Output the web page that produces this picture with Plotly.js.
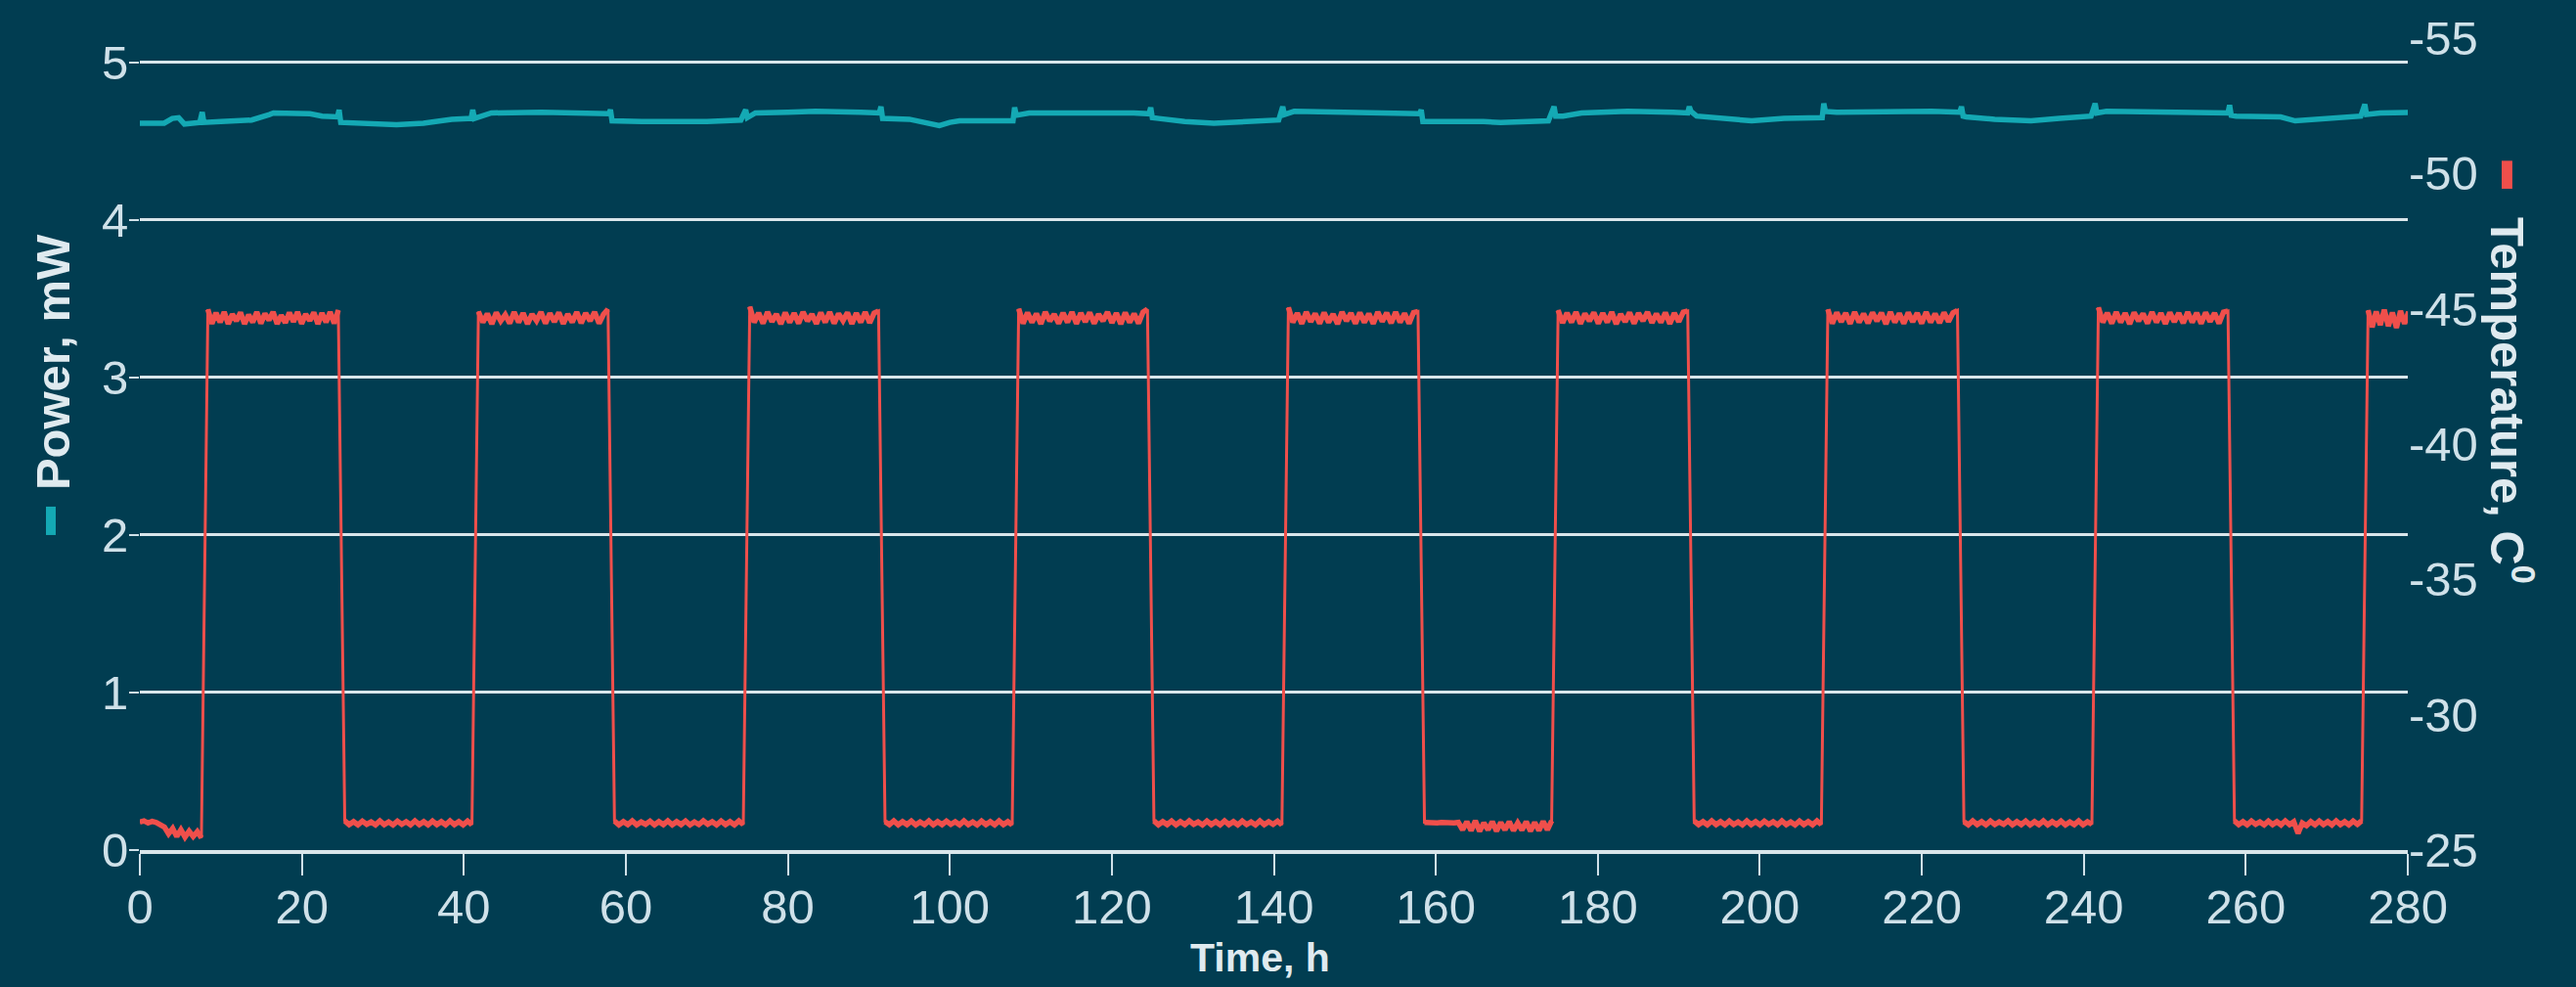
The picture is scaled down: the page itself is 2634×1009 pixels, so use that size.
<!DOCTYPE html>
<html>
<head>
<meta charset="utf-8">
<script src="https://cdn.plot.ly/plotly-3.0.1.min.js"></script>
<style>
html,body{margin:0;padding:0;background:#013d51;overflow:hidden;}
#chart{width:2634px;height:1009px;}
</style>
</head>
<body>
<div id="chart"></div>
<script>
// ---------- data ----------
const xTickVals = [0,20,40,60,80,100,120,140,160,180,200,220,240,260,280];
const yTickVals = [0,1,2,3,4,5];
const y2TickVals = [-25,-30,-35,-40,-45,-50,-55];
const y2TickText = ["-25","-30","-35","-40","-45","-50","-55"];

// Power, mW (left axis)
const powerTime = [0,3.0,4.0,4.8,5.5,7.4,7.7,7.9,10,13.2,13.8,16.0,16.5,21,22.5,24.4,24.6,24.8,28,31.7,35,38.5,40.9,41.1,41.3,43.4,49.6,55.7,57.9,58.1,58.3,62,66.2,70,74.2,74.8,75.0,76,80,83.4,89,91.3,91.5,91.7,95,97,98.7,100,101.2,107.8,108.0,108.2,109.8,122.7,124.6,124.8,125.0,125.8,129,132.6,136,140.6,141.1,141.3,142.5,150,156.6,158.0,158.2,158.4,165.9,168,173.9,174.6,174.8,175.7,178,183.7,189.3,191.1,191.3,191.5,192.2,195,199,203,207,207.7,207.9,208.1,209.5,215,221.2,224.7,224.9,225.1,225.5,229,233.5,237,240.9,241.4,241.6,242.8,250,256.3,257.8,258.0,258.2,258.8,262,264.3,266.1,269.3,274.2,274.7,274.9,276.6,281.2];
const powerMW  = [4.615,4.615,4.645,4.65,4.61,4.62,4.685,4.62,4.625,4.64,4.635,4.67,4.68,4.675,4.66,4.655,4.70,4.62,4.615,4.605,4.615,4.64,4.645,4.70,4.645,4.68,4.685,4.68,4.675,4.70,4.63,4.625,4.625,4.625,4.635,4.70,4.65,4.68,4.685,4.69,4.685,4.68,4.72,4.645,4.64,4.615,4.60,4.62,4.63,4.63,4.715,4.665,4.68,4.68,4.675,4.715,4.65,4.645,4.625,4.615,4.625,4.635,4.72,4.67,4.69,4.685,4.675,4.675,4.70,4.625,4.625,4.62,4.63,4.72,4.66,4.66,4.68,4.69,4.685,4.68,4.72,4.69,4.66,4.645,4.63,4.645,4.655,4.65,4.74,4.69,4.685,4.69,4.69,4.685,4.72,4.66,4.655,4.64,4.63,4.645,4.66,4.74,4.68,4.69,4.685,4.68,4.68,4.73,4.665,4.66,4.66,4.655,4.63,4.645,4.66,4.735,4.67,4.68,4.685];

// Temperature, C (right axis): plateau edges, h
const lowStart  = [0,25.3,58.6,92.0,125.2,158.6,191.9,225.2,258.6];
const lowEnd    = [7.6,41.0,74.5,107.7,141.0,174.3,207.6,241.0,274.3];
const highStart = [8.4,41.8,75.3,108.5,141.8,175.1,208.4,241.8,275.1];
const highEnd   = [24.5,57.8,91.2,124.4,157.8,191.1,224.4,257.8,280.6];

// readings along each warm (about -26) and cold (about -45) plateau
const lowReadings = [
 [-26.04,-26.08,-26.0,-26.06,-26.02,-25.95,-25.85,-25.6,-25.8,-25.5,-25.75,-25.48,-25.7,-25.5,-25.68,-25.45],
 [-26.08,-25.94,-26.05,-25.93,-26.07,-25.95,-26.04,-25.93,-26.08,-25.94,-26.04,-25.93,-26.07,-25.95,-26.05,-25.93,-26.08,-25.94,-26.05,-25.93,-26.07,-25.94,-26.05,-25.93,-26.08,-25.94,-26.05,-25.93,-26.07,-25.94],
 [-26.07,-25.93,-26.05,-25.94,-26.08,-25.93,-26.04,-25.95,-26.07,-25.93,-26.05,-25.94,-26.08,-25.93,-26.05,-25.94,-26.07,-25.93,-26.04,-25.94,-26.08,-25.95,-26.05,-25.93,-26.07,-25.94,-26.05,-25.93,-26.08,-25.94],
 [-26.05,-25.94,-26.08,-25.93,-26.05,-25.94,-26.07,-25.93,-26.04,-25.94,-26.08,-25.93,-26.05,-25.94,-26.07,-25.95,-26.05,-25.93,-26.08,-25.94,-26.04,-25.93,-26.07,-25.94,-26.05,-25.93,-26.08,-25.94,-26.05,-25.93],
 [-26.08,-25.93,-26.05,-25.94,-26.07,-25.93,-26.05,-25.94,-26.08,-25.95,-26.04,-25.93,-26.07,-25.94,-26.05,-25.93,-26.08,-25.94,-26.05,-25.93,-26.07,-25.94,-26.04,-25.93,-26.08,-25.94,-26.05,-25.95,-26.07,-25.93],
 [-26.02,-26.0,-26.03,-26.0,-26.02,-26.0,-26.02,-26.0,-26.02,-25.75,-26.05,-25.72,-26.08,-25.7,-26.0,-25.75,-26.05,-25.7,-26.02,-25.75,-26.05,-25.72,-26.0,-25.74,-26.05,-25.7,-26.02,-25.72,-26.06,-25.75,-26.08],
 [-26.07,-25.94,-26.05,-25.93,-26.08,-25.94,-26.05,-25.93,-26.07,-25.94,-26.04,-25.93,-26.08,-25.94,-26.05,-25.93,-26.07,-25.95,-26.05,-25.93,-26.08,-25.94,-26.04,-25.93,-26.07,-25.94,-26.05,-25.93,-26.08,-25.94],
 [-26.05,-25.93,-26.08,-25.94,-26.05,-25.93,-26.07,-25.94,-26.04,-25.95,-26.08,-25.93,-26.05,-25.94,-26.07,-25.93,-26.05,-25.94,-26.08,-25.93,-26.05,-25.94,-26.07,-25.93,-26.04,-25.94,-26.08,-25.93,-26.05,-25.95],
 [-26.08,-25.94,-26.05,-25.93,-26.07,-25.95,-26.04,-25.93,-26.07,-25.94,-26.05,-25.93,-26.08,-25.94,-26.05,-25.62,-26.0,-25.9,-26.05,-25.93,-26.07,-25.94,-26.05,-25.93,-26.08,-25.94,-26.05,-25.93,-26.07,-25.95,-26.08]
];
const highReadings = [
 [-44.98,-44.45,-44.85,-44.5,-44.88,-44.44,-44.8,-44.55,-44.86,-44.44,-44.78,-44.5,-44.88,-44.46,-44.82,-44.58,-44.88,-44.44,-44.76,-44.48,-44.86,-44.52,-44.88,-44.45,-44.8,-44.56,-44.86,-44.44,-44.84,-44.5,-44.88,-44.46,-44.95],
 [-44.9,-44.5,-44.82,-44.44,-44.86,-44.55,-44.78,-44.46,-44.88,-44.5,-44.84,-44.44,-44.8,-44.56,-44.88,-44.46,-44.83,-44.52,-44.86,-44.45,-44.8,-44.5,-44.88,-44.47,-44.84,-44.55,-44.88,-44.46,-44.8,-44.98],
 [-45.08,-44.5,-44.85,-44.46,-44.88,-44.52,-44.8,-44.44,-44.86,-44.5,-44.84,-44.46,-44.88,-44.55,-44.8,-44.45,-44.86,-44.5,-44.88,-44.46,-44.82,-44.56,-44.86,-44.45,-44.84,-44.5,-44.88,-44.48,-44.84,-44.92],
 [-45.0,-44.46,-44.86,-44.5,-44.82,-44.44,-44.88,-44.55,-44.8,-44.46,-44.85,-44.5,-44.88,-44.45,-44.84,-44.52,-44.86,-44.46,-44.8,-44.55,-44.88,-44.48,-44.84,-44.44,-44.86,-44.5,-44.82,-44.46,-44.88,-44.98],
 [-45.05,-44.5,-44.84,-44.45,-44.88,-44.52,-44.82,-44.46,-44.86,-44.5,-44.8,-44.44,-44.88,-44.55,-44.84,-44.46,-44.86,-44.5,-44.82,-44.45,-44.88,-44.53,-44.85,-44.47,-44.88,-44.5,-44.83,-44.46,-44.86,-44.9],
 [-44.95,-44.48,-44.85,-44.5,-44.88,-44.45,-44.82,-44.55,-44.86,-44.46,-44.84,-44.5,-44.88,-44.44,-44.8,-44.52,-44.86,-44.46,-44.84,-44.55,-44.88,-44.48,-44.82,-44.5,-44.86,-44.45,-44.84,-44.52,-44.88,-44.92],
 [-44.98,-44.46,-44.86,-44.52,-44.84,-44.45,-44.88,-44.5,-44.82,-44.47,-44.86,-44.55,-44.85,-44.44,-44.88,-44.5,-44.83,-44.46,-44.86,-44.52,-44.84,-44.46,-44.88,-44.5,-44.82,-44.48,-44.86,-44.53,-44.85,-44.94],
 [-45.05,-44.5,-44.85,-44.46,-44.88,-44.5,-44.84,-44.44,-44.86,-44.55,-44.82,-44.46,-44.88,-44.5,-44.84,-44.45,-44.86,-44.52,-44.84,-44.47,-44.88,-44.5,-44.85,-44.46,-44.86,-44.53,-44.84,-44.46,-44.88,-44.92],
 [-44.95,-44.32,-44.9,-44.4,-44.96,-44.36,-44.86,-44.3,-44.92,-44.45,-44.88,-44.34]
];

// ---------- build the temperature series (samples spread over each plateau) ----------
const tempTime = [], tempC = [];          // full path incl. transitions
const plateauTime = [], plateauC = [];    // same samples, plateau by plateau (noisy band)
function addPlateau(t0, t1, vals) {
  const n = vals.length;
  for (let i = 0; i < n; i++) {
    const t = t0 + (t1 - t0) * i / (n - 1);
    tempTime.push(t); tempC.push(vals[i]);
    plateauTime.push(t); plateauC.push(vals[i]);
  }
  plateauTime.push(null); plateauC.push(null);
}
for (let k = 0; k < lowReadings.length; k++) {
  addPlateau(lowStart[k], lowEnd[k], lowReadings[k]);
  addPlateau(highStart[k], highEnd[k], highReadings[k]);
}

// ---------- styling ----------
const bg = '#013d51';
const light = '#cfe1e9';
const gridC = '#d9e6eb';
const titleC = '#dfeaef';
const cyan = '#14a9b4';
const red = '#ef4f4b';
const fontFam = '"Liberation Sans", Arial, Helvetica, sans-serif';

const traces = [
  {x: powerTime, y: powerMW, type: 'scatter', mode: 'lines', name: 'Power, mW',
   line: {color: cyan, width: 5.5}, yaxis: 'y', hoverinfo: 'skip'},
  {x: tempTime, y: tempC, type: 'scatter', mode: 'lines', name: 'Temperature, C',
   line: {color: red, width: 3}, yaxis: 'y2', hoverinfo: 'skip'},
  {x: plateauTime, y: plateauC, type: 'scatter', mode: 'lines', name: 'Temperature, C',
   line: {color: red, width: 5.5}, yaxis: 'y2', connectgaps: false, hoverinfo: 'skip'}
];

const layout = {
  width: 2634, height: 1009,
  margin: {l: 143, r: 172, t: 39, b: 140},
  paper_bgcolor: bg, plot_bgcolor: bg,
  showlegend: false,
  font: {family: fontFam, color: light, size: 49},
  xaxis: {
    range: [0, 280], tickmode: 'array', tickvals: xTickVals,
    ticks: 'outside', ticklen: 22, tickwidth: 2, tickcolor: light,
    ticklabelstandoff: -10,
    showgrid: false, zeroline: false, showline: true, linecolor: gridC, linewidth: 4,
    tickfont: {size: 49, color: light},
    automargin: false
  },
  yaxis: {
    range: [0, 5.155], tickmode: 'array', tickvals: yTickVals,
    ticks: 'outside', ticklen: 10, tickwidth: 2, tickcolor: light,
    ticklabelstandoff: -9,
    showgrid: true, gridcolor: gridC, gridwidth: 3,
    zeroline: false, showline: false,
    tickfont: {size: 49, color: light}, automargin: false
  },
  yaxis2: {
    overlaying: 'y', side: 'right', range: [-25, -55],
    tickmode: 'array', tickvals: y2TickVals, ticktext: y2TickText,
    ticks: '', showgrid: false, zeroline: false, showline: false,
    tickfont: {size: 49, color: light}, automargin: false
  },
  annotations: [
    {text: '<b>Time, h</b>', xref: 'paper', yref: 'paper', x: 0.494, y: -0.1325,
     xanchor: 'center', yanchor: 'middle', showarrow: false,
     font: {size: 41, color: titleC, family: fontFam}},
    {text: '<b>Power, mW</b>', xref: 'paper', yref: 'paper', x: -0.0384, y: 0.601,
     xanchor: 'center', yanchor: 'middle', textangle: -90, showarrow: false,
     font: {size: 49, color: titleC, family: fontFam}},
    {text: '<b>Temperature, C<sup>0</sup></b>', xref: 'paper', yref: 'paper', x: 1.0457, y: 0.553,
     xanchor: 'center', yanchor: 'middle', textangle: 90, showarrow: false,
     font: {size: 49, color: titleC, family: fontFam}}
  ],
  shapes: [
    {type: 'rect', xref: 'paper', yref: 'paper', x0: -0.0414, x1: -0.0371, y0: 0.388, y1: 0.423,
     fillcolor: cyan, line: {width: 0}},
    {type: 'rect', xref: 'paper', yref: 'paper', x0: 1.0414, x1: 1.0461, y0: 0.8145, y1: 0.849,
     fillcolor: red, line: {width: 0}}
  ]
};

Plotly.newPlot('chart', traces, layout, {displayModeBar: false, staticPlot: true});
</script>
</body>
</html>
